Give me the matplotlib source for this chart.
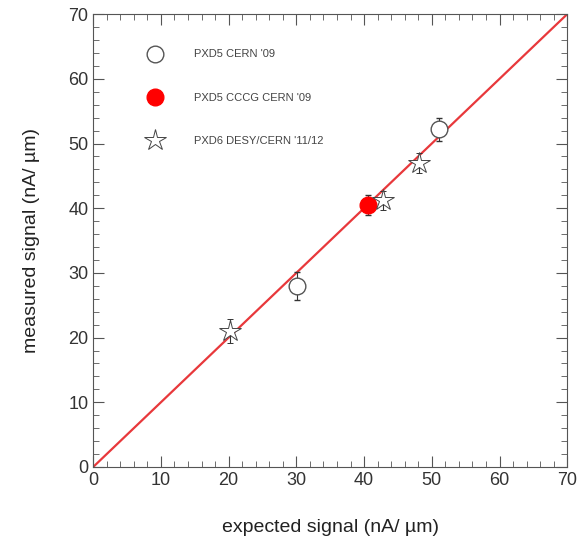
import matplotlib
matplotlib.use("Agg")
import matplotlib.pyplot as plt
from matplotlib.lines import Line2D
from matplotlib.ticker import MultipleLocator

plt.rcParams['font.family'] = ['Liberation Sans', 'DejaVu Sans']

## data
pxd5_x = [30.1, 51.1]
pxd5_y = [28.0, 52.2]
pxd5_err = [2.2, 1.8]

cccg_x = [40.6]
cccg_y = [40.5]
cccg_err = [1.6]

pxd6_x = [20.2, 42.8, 48.1]
pxd6_y = [21.0, 41.2, 47.0]
pxd6_err = [1.8, 1.5, 1.6]

labels = ["PXD5 CERN '09", "PXD5 CCCG CERN '09", "PXD6 DESY/CERN '11/12"]

## plot
fig = plt.figure(figsize=(5.86, 5.43), dpi=100)
ax = fig.add_axes([0.159, 0.140, 0.809, 0.834])

ax.plot([0, 70], [0, 70], color='#e8383b', lw=1.6, zorder=1)

ax.errorbar(pxd5_x, pxd5_y, yerr=pxd5_err, fmt='o', ms=12, mfc='white', mec='#555555',
            mew=1.0, ecolor='#333333', elinewidth=0.8, capsize=2, zorder=3)
ax.errorbar(cccg_x, cccg_y, yerr=cccg_err, fmt='o', ms=12, mfc='#ff0000', mec='#ff0000',
            ecolor='#333333', elinewidth=0.8, capsize=2, zorder=3)
ax.errorbar(pxd6_x, pxd6_y, yerr=pxd6_err, fmt='*', ms=16, mfc='white', mec='#444444',
            mew=0.7, ecolor='#333333', elinewidth=0.8, capsize=2, zorder=3)

handles = [
    Line2D([], [], ls='none', marker='o', ms=12, mfc='white', mec='#555555', mew=1.0),
    Line2D([], [], ls='none', marker='o', ms=12, mfc='#ff0000', mec='#ff0000'),
    Line2D([], [], ls='none', marker='*', ms=16, mfc='white', mec='#444444', mew=0.7),
]
leg = ax.legend(handles, labels, loc='upper left', bbox_to_anchor=(0.091, 0.944),
                frameon=False, fontsize=8, labelspacing=3.0, handletextpad=2.75,
                handlelength=1.5)
for t in leg.get_texts():
    t.set_color('#444444')

ax.set_xlim(0, 70)
ax.set_ylim(0, 70)
ax.xaxis.set_major_locator(MultipleLocator(10))
ax.yaxis.set_major_locator(MultipleLocator(10))
ax.xaxis.set_minor_locator(MultipleLocator(2))
ax.yaxis.set_minor_locator(MultipleLocator(2))
ax.tick_params(which='both', direction='in', top=True, right=True, colors='#555555',
               labelcolor='#333333', labelsize=13)
ax.tick_params(which='major', length=8)
ax.tick_params(which='minor', length=4)
for s in ax.spines.values():
    s.set_color('#555555')

ax.set_xlabel('expected signal (nA/ \u00b5m)', fontsize=14, color='#222222', labelpad=22)
ax.set_ylabel('measured signal (nA/ \u00b5m)', fontsize=14, color='#222222', labelpad=20)

plt.savefig('out.png', dpi=100)
